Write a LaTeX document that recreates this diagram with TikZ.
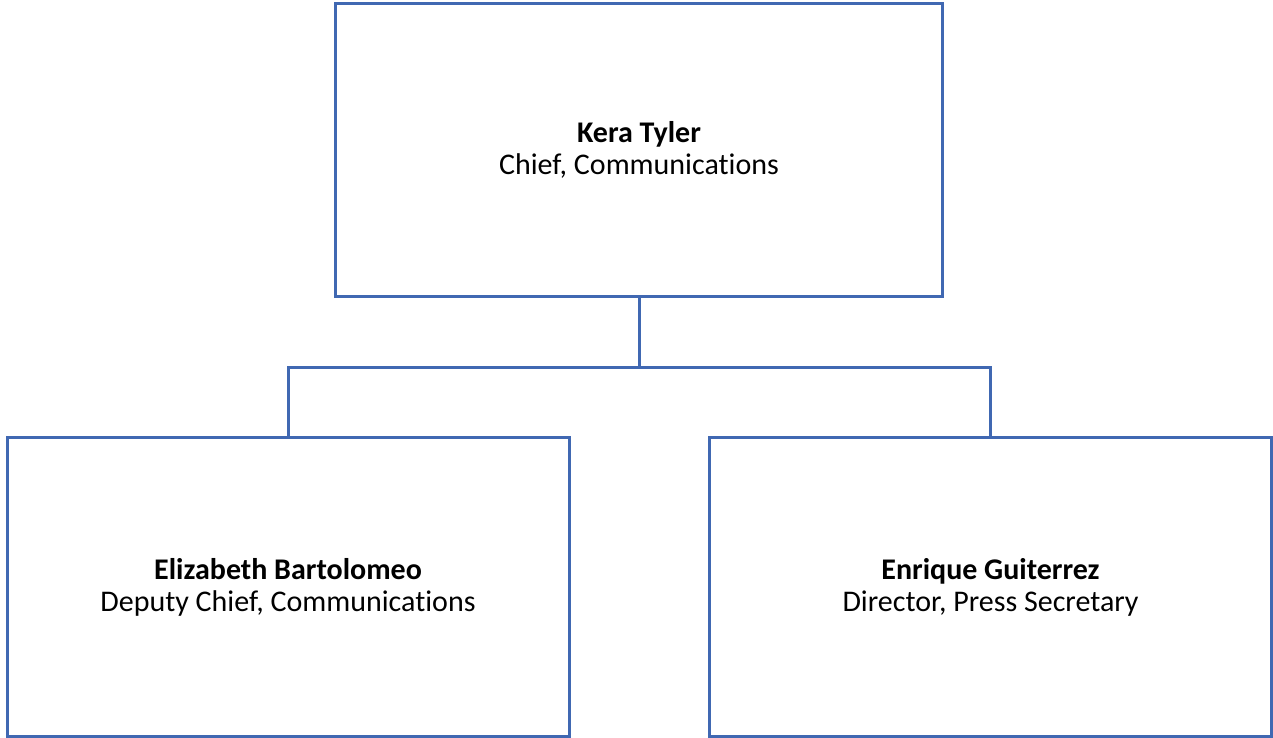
\documentclass[tikz,border=0pt]{standalone}
\usepackage{fontspec}
\setmainfont[Ligatures=NoCommon]{Carlito}
\definecolor{boxblue}{RGB}{64,104,178}
\begin{document}
\begin{tikzpicture}[x=1pt,y=-1pt,
  orgbox/.style={draw=boxblue,line width=3pt,fill=none,inner sep=0pt,align=center,
    font=\fontsize{30}{32}\selectfont},
  link/.style={draw=boxblue,line width=3pt}]
\useasboundingbox (0,0) rectangle (1273,738);
\node[orgbox,minimum width=607pt,minimum height=293pt] (top) at (639,150) {\textbf{Kera Tyler}\\Chief, Communications};
\node[orgbox,minimum width=562pt,minimum height=299pt] (left) at (288,587) {\textbf{Elizabeth Bartolomeo}\\Deputy Chief, Communications};
\node[orgbox,minimum width=562pt,minimum height=299pt] (right) at (990.5,587) {\textbf{Enrique Guiterrez}\\Director, Press Secretary};
\coordinate (mid) at (639,367);
\draw[link] (top.south) -- (mid);
\draw[link] (left.north) |- (mid) -| (right.north);
\end{tikzpicture}
\end{document}
